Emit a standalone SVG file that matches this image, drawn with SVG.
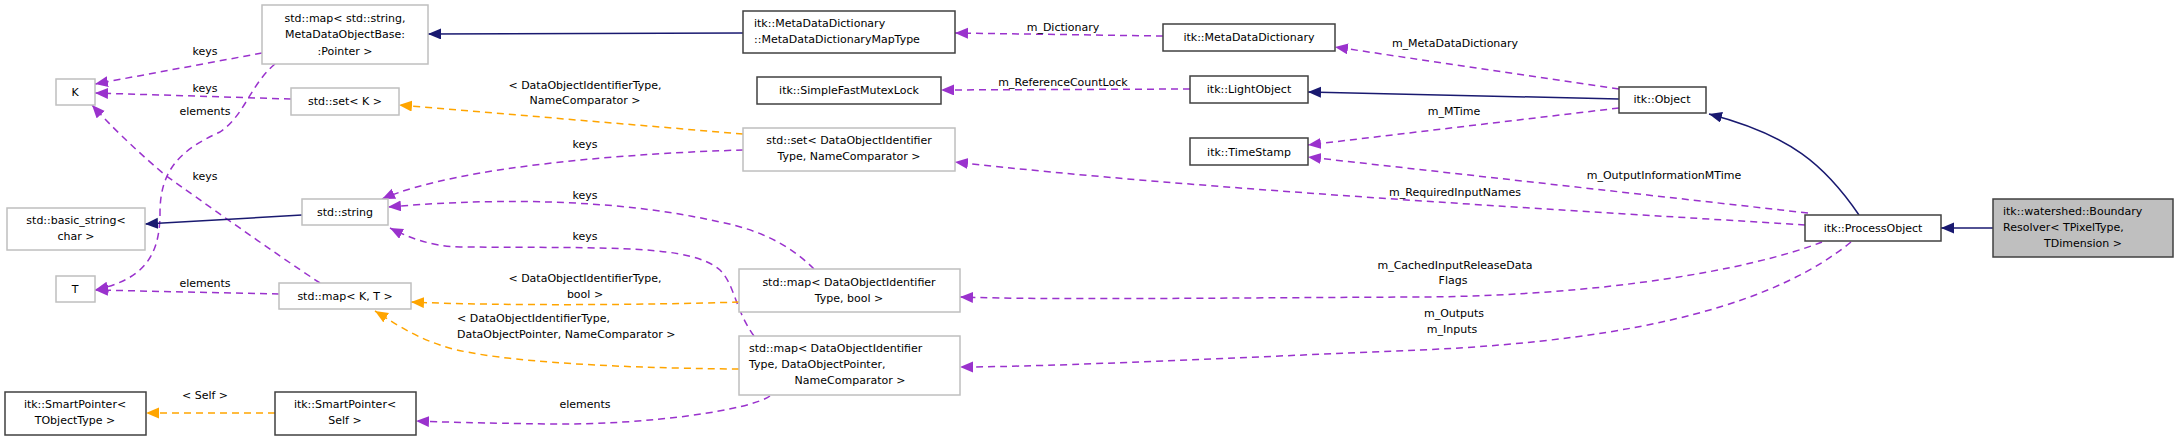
<svg xmlns="http://www.w3.org/2000/svg" width="2179" height="440" viewBox="0 0 2179 440">
<style>
text{font-family:"DejaVu Sans",sans-serif;font-size:11px;fill:#000}
.c{text-anchor:middle}
.s{text-anchor:start}
.n rect{fill:#fff;stroke:#404040;stroke-width:1.5}
.g rect{fill:#fff;stroke:#bfbfbf;stroke-width:1.5}
.p{fill:none;stroke:#9a32cd;stroke-width:1.5;stroke-dasharray:7,5}
.o{fill:none;stroke:#ffa500;stroke-width:1.5;stroke-dasharray:7,5}
.b{fill:none;stroke:#191970;stroke-width:1.5}
</style>
<defs>
<marker id="mp" markerUnits="userSpaceOnUse" markerWidth="14" markerHeight="12" refX="13" refY="5.5" orient="auto"><path d="M0,0 L13,5.5 L0,11 z" fill="#9a32cd"/></marker>
<marker id="mo" markerUnits="userSpaceOnUse" markerWidth="14" markerHeight="12" refX="13" refY="5.5" orient="auto"><path d="M0,0 L13,5.5 L0,11 z" fill="#ffa500"/></marker>
<marker id="mb" markerUnits="userSpaceOnUse" markerWidth="14" markerHeight="12" refX="13" refY="5.5" orient="auto"><path d="M0,0 L13,5.5 L0,11 z" fill="#191970"/></marker>
</defs>
<g id="edges">
<path class="p" marker-end="url(#mp)" d="M262,53 L95,84"/>
<path class="p" marker-end="url(#mp)" d="M291,99 L95,93"/>
<path class="p" marker-end="url(#mp)" d="M275,64 C250,85 245,115 220,132 C180,150 160,170 160,213 C160,260 140,280 95,290"/>
<path class="p" marker-end="url(#mp)" d="M320,283 C270,250 200,200 165,175 C130,145 110,125 92,105"/>
<path class="p" marker-end="url(#mp)" d="M279,294 L95,290"/>
<path class="b" marker-end="url(#mb)" d="M302,215 L145,224"/>
<path class="p" marker-end="url(#mp)" d="M743,150 C640,153 460,165 382,199"/>
<path class="p" marker-end="url(#mp)" d="M814,269 C790,245 760,230 720,222 C600,195 470,200 388,207"/>
<path class="p" marker-end="url(#mp)" d="M754,336 C735,310 735,285 720,270 C690,245 620,248 460,247 C430,246 410,238 390,228"/>
<path class="o" marker-end="url(#mo)" d="M743,134 L399,105"/>
<path class="o" marker-end="url(#mo)" d="M739,302 C650,305 500,306 411,302"/>
<path class="o" marker-end="url(#mo)" d="M739,369 C600,368 480,360 440,345 C410,335 390,320 375,311"/>
<path class="o" marker-end="url(#mo)" d="M275,413 L146,413"/>
<path class="p" marker-end="url(#mp)" d="M770,396 C750,410 650,425 550,424 C480,423 440,422 416,421"/>
<path class="b" marker-end="url(#mb)" d="M743,33 L428,34"/>
<path class="p" marker-end="url(#mp)" d="M1163,36 L955,33"/>
<path class="p" marker-end="url(#mp)" d="M1619,89 L1335,47"/>
<path class="p" marker-end="url(#mp)" d="M1190,89 L941,90"/>
<path class="b" marker-end="url(#mb)" d="M1619,99 L1308,92"/>
<path class="p" marker-end="url(#mp)" d="M1619,108 L1308,145"/>
<path class="p" marker-end="url(#mp)" d="M1808,213 L1308,157"/>
<path class="p" marker-end="url(#mp)" d="M1805,225 C1600,212 1200,190 955,162"/>
<path class="p" marker-end="url(#mp)" d="M1822,242 C1750,270 1600,296 1420,297 C1200,298 1050,300 960,297"/>
<path class="p" marker-end="url(#mp)" d="M1851,242 C1780,300 1650,340 1420,350 C1250,357 1050,367 960,367"/>
<path class="b" marker-end="url(#mb)" d="M1993,228 L1941,228"/>
<path class="b" marker-end="url(#mb)" d="M1859,215 C1825,165 1790,135 1709,114"/>
<text class="c" x="205" y="55">keys</text>
<text class="c" x="205" y="92">keys</text>
<text class="c" x="205" y="115">elements</text>
<text class="c" x="205" y="180">keys</text>
<text class="c" x="205" y="287">elements</text>
<text class="c" x="205" y="399">&lt; Self &gt;</text>
<text class="c" x="585" y="89">&lt; DataObjectIdentifierType,</text>
<text class="c" x="585" y="104">NameComparator &gt;</text>
<text class="c" x="585" y="148">keys</text>
<text class="c" x="585" y="199">keys</text>
<text class="c" x="585" y="240">keys</text>
<text class="c" x="585" y="282">&lt; DataObjectIdentifierType,</text>
<text class="c" x="585" y="298">bool &gt;</text>
<text class="s" x="457" y="322">&lt; DataObjectIdentifierType,</text>
<text class="s" x="457" y="338">DataObjectPointer, NameComparator &gt;</text>
<text class="c" x="585" y="408">elements</text>
<text class="c" x="1063" y="31">m_Dictionary</text>
<text class="c" x="1063" y="86">m_ReferenceCountLock</text>
<text class="c" x="1455" y="47">m_MetaDataDictionary</text>
<text class="c" x="1454" y="115">m_MTime</text>
<text class="c" x="1664" y="179">m_OutputInformationMTime</text>
<text class="c" x="1455" y="196">m_RequiredInputNames</text>
<text class="c" x="1455" y="269">m_CachedInputReleaseData</text>
<text class="c" x="1453" y="284">Flags</text>
<text class="c" x="1454" y="317">m_Outputs</text>
<text class="c" x="1452" y="333">m_Inputs</text>
</g>
<g id="n_mapstr" class="g"><rect x="262" y="5" width="166" height="59"/><text class="c" x="345" y="22">std::map&lt; std::string,</text><text class="c" x="345" y="38">MetaDataObjectBase:</text><text class="c" x="345" y="55">:Pointer &gt;</text></g>
<g id="n_K" class="g"><rect x="56" y="79" width="39" height="26"/><text class="c" x="75" y="96">K</text></g>
<g id="n_setK" class="g"><rect x="291" y="88" width="108" height="27"/><text class="c" x="345" y="105">std::set&lt; K &gt;</text></g>
<g id="n_basic" class="g"><rect x="7" y="208" width="138" height="42"/><text class="c" x="76" y="224">std::basic_string&lt;</text><text class="c" x="76" y="240">char &gt;</text></g>
<g id="n_string" class="g"><rect x="302" y="199" width="86" height="26"/><text class="c" x="345" y="216">std::string</text></g>
<g id="n_T" class="g"><rect x="56" y="276" width="39" height="26"/><text class="c" x="75" y="293">T</text></g>
<g id="n_mapKT" class="g"><rect x="279" y="283" width="132" height="26"/><text class="c" x="345" y="300">std::map&lt; K, T &gt;</text></g>
<g id="n_spT" class="n"><rect x="5" y="392" width="141" height="43"/><text class="c" x="75" y="408">itk::SmartPointer&lt;</text><text class="c" x="75" y="424">TObjectType &gt;</text></g>
<g id="n_spS" class="n"><rect x="275" y="392" width="141" height="43"/><text class="c" x="345" y="408">itk::SmartPointer&lt;</text><text class="c" x="345" y="424">Self &gt;</text></g>
<g id="n_maptype" class="n"><rect x="743" y="11" width="212" height="42"/><text class="s" x="754" y="27">itk::MetaDataDictionary</text><text class="s" x="754" y="43">::MetaDataDictionaryMapType</text></g>
<g id="n_mdd" class="n"><rect x="1163" y="24" width="172" height="27"/><text class="c" x="1249" y="41">itk::MetaDataDictionary</text></g>
<g id="n_mutex" class="n"><rect x="757" y="77" width="184" height="27"/><text class="c" x="849" y="94">itk::SimpleFastMutexLock</text></g>
<g id="n_light" class="n"><rect x="1190" y="76" width="118" height="27"/><text class="c" x="1249" y="93">itk::LightObject</text></g>
<g id="n_setdoi" class="g"><rect x="743" y="128" width="212" height="43"/><text class="c" x="849" y="144">std::set&lt; DataObjectIdentifier</text><text class="c" x="849" y="160">Type, NameComparator &gt;</text></g>
<g id="n_ts" class="n"><rect x="1190" y="138" width="118" height="27"/><text class="c" x="1249" y="156">itk::TimeStamp</text></g>
<g id="n_mapbool" class="g"><rect x="739" y="269" width="221" height="43"/><text class="c" x="849" y="286">std::map&lt; DataObjectIdentifier</text><text class="c" x="849" y="302">Type, bool &gt;</text></g>
<g id="n_mapdop" class="g"><rect x="739" y="336" width="221" height="59"/><text class="s" x="749" y="352">std::map&lt; DataObjectIdentifier</text><text class="s" x="749" y="368">Type, DataObjectPointer,</text><text class="c" x="850" y="384">NameComparator &gt;</text></g>
<g id="n_object" class="n"><rect x="1619" y="87" width="87" height="26"/><text class="c" x="1662" y="103">itk::Object</text></g>
<g id="n_po" class="n"><rect x="1805" y="215" width="136" height="26"/><text class="c" x="1873" y="232">itk::ProcessObject</text></g>
<g id="n_br"><rect x="1993" y="199" width="180" height="58" fill="#bfbfbf" stroke="#404040" stroke-width="1.5"/><text class="s" x="2003" y="215">itk::watershed::Boundary</text><text class="s" x="2003" y="231">Resolver&lt; TPixelType,</text><text class="c" x="2083" y="247">TDimension &gt;</text></g>
</svg>
